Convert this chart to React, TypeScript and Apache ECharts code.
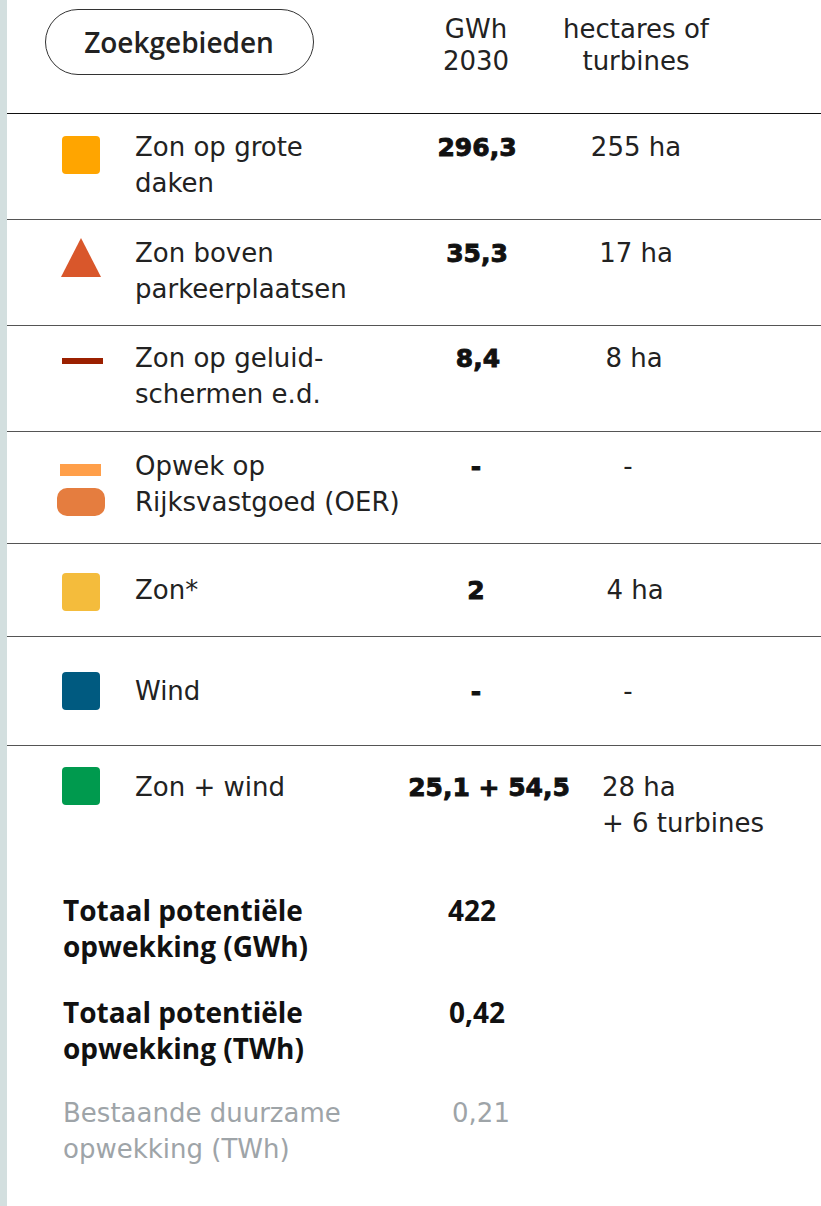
import React, { useEffect, useRef } from "react";
import * as echarts from "echarts";

// ---- data ----
const headerButton = "Zoekgebieden";
const columnHeaders = [["GWh", "2030"], ["hectares of", "turbines"]];
const categories = [
  "Zon op grote\ndaken",
  "Zon boven\nparkeerplaatsen",
  "Zon op geluid-\nschermen e.d.",
  "Opwek op\nRijksvastgoed (OER)",
  "Zon*",
  "Wind",
  "Zon + wind",
];
const gwh2030 = ["296,3", "35,3", "8,4", "-", "2", "-", "25,1 + 54,5"];
const hectares = ["255 ha", "17 ha", "8 ha", "-", "4 ha", "-", "28 ha\n+ 6 turbines"];
const totalLabels = [
  "Totaal potentiële\nopwekking (GWh)",
  "Totaal potentiële\nopwekking (TWh)",
  "Bestaande duurzame\nopwekking (TWh)",
];
const totalValues = ["422", "0,42", "0,21"];

// ---- layout / style ----
const LIGHT = "'DejaVu Sans'";
const BOLD = "'Open Sans'";
const TEXT = "#222222";
const dividerY = [113, 219, 325, 431, 543, 636, 745];
const rowTextY = [147, 253, 358, 466, 590, 691, 787];
const gwhX = [477, 477, 478, 476, 476, 476, 489];
const haX = [636, 636, 634, 628, 635, 628, 602];
const totalY = [910, 1012, 1113];
const totalX = [472, 477, 481];
const LH = 36;

function icon(i: number): any[] {
  switch (i) {
    case 0:
      return [{ type: "rect", shape: { x: 62, y: 136, width: 38, height: 38, r: 4 }, style: { fill: "#FFA500" } }];
    case 1:
      return [{ type: "polygon", shape: { points: [[81, 238], [101, 277], [61, 277]] }, style: { fill: "#D9572B" } }];
    case 2:
      return [{ type: "rect", shape: { x: 62, y: 358, width: 41, height: 6 }, style: { fill: "#9B2000" } }];
    case 3:
      return [
        { type: "rect", shape: { x: 60, y: 464, width: 41, height: 12 }, style: { fill: "#FF9F4A" } },
        { type: "rect", shape: { x: 57, y: 488, width: 48, height: 28, r: 10 }, style: { fill: "#E57D3F" } },
      ];
    case 4:
      return [{ type: "rect", shape: { x: 62, y: 573, width: 38, height: 38, r: 4 }, style: { fill: "#F4BC3C" } }];
    case 5:
      return [{ type: "rect", shape: { x: 62, y: 672, width: 38, height: 38, r: 4 }, style: { fill: "#005A80" } }];
    default:
      return [{ type: "rect", shape: { x: 62, y: 767, width: 38, height: 38, r: 4 }, style: { fill: "#009A4E" } }];
  }
}

export default function App() {
  const ref = useRef<HTMLDivElement>(null);
  useEffect(() => {
    if (!ref.current) return;
    const chart = echarts.init(ref.current, null, { renderer: "svg" });
    const els: any[] = [];
    els.push({ type: "rect", shape: { x: 0, y: 0, width: 821, height: 1206 }, style: { fill: "#ffffff" }, z: 0 });
    els.push({ type: "rect", shape: { x: 0, y: 0, width: 7, height: 1206 }, style: { fill: "#D3DFDF" }, z: 1 });
    // button
    els.push({
      type: "rect",
      shape: { x: 45.5, y: 9.5, width: 268, height: 65, r: 32.5 },
      style: { fill: "#ffffff", stroke: "#333333", lineWidth: 1 },
      z: 2,
    });
    els.push({
      type: "text",
      x: 179,
      y: 42,
      style: { text: headerButton, font: `600 28px ${BOLD}`, fill: TEXT, align: "center", verticalAlign: "middle" },
      z: 3,
    });
    // column headers
    const hx = [476, 636];
    columnHeaders.forEach((lines, i) => {
      lines.forEach((h, j) => {
        els.push({
          type: "text",
          x: hx[i],
          y: 29 + j * 32,
          style: { text: h, font: `normal 26px ${LIGHT}`, fill: TEXT, align: "center", verticalAlign: "middle" },
          z: 3,
        });
      });
    });
    // dividers
    dividerY.forEach((y, i) => {
      els.push({
        type: "line",
        shape: { x1: 7, y1: y + 0.5, x2: 821, y2: y + 0.5 },
        style: { stroke: i === 0 ? "#111111" : "#555555", lineWidth: 1 },
        z: 2,
      });
    });
    // rows
    categories.forEach((c, i) => {
      icon(i).forEach((e) => els.push({ ...e, z: 3 }));
      els.push({
        type: "text",
        x: 135,
        y: rowTextY[i] - LH / 2,
        style: { text: c, font: `normal 26px ${LIGHT}`, lineHeight: LH, fill: TEXT, align: "left", verticalAlign: "top" },
        z: 3,
      });
      els.push({
        type: "text",
        x: gwhX[i],
        y: rowTextY[i] - LH / 2,
        style: {
          text: gwh2030[i],
          font: `bold 25px ${LIGHT}`,
          lineHeight: LH,
          fill: "#111111",
          stroke: "#111111",
          lineWidth: 0.9,
          align: "center",
          verticalAlign: "top",
        },
        z: 3,
      });
      els.push({
        type: "text",
        x: haX[i],
        y: rowTextY[i] - LH / 2,
        style: {
          text: hectares[i],
          font: `normal 26px ${LIGHT}`,
          lineHeight: LH,
          fill: TEXT,
          align: i === 6 ? "left" : "center",
          verticalAlign: "top",
        },
        z: 3,
      });
    });
    // totals
    totalLabels.forEach((t, i) => {
      const gray = i === 2;
      const col = gray ? "#9EA4A8" : "#111111";
      const font = gray ? `normal 26px ${LIGHT}` : `700 28px ${BOLD}`;
      els.push({
        type: "text",
        x: 63,
        y: totalY[i] - LH / 2,
        style: { text: t, font, lineHeight: LH, fill: col, align: "left", verticalAlign: "top" },
        z: 3,
      });
      els.push({
        type: "text",
        x: totalX[i],
        y: totalY[i] - LH / 2,
        style: { text: totalValues[i], font, lineHeight: LH, fill: col, align: "center", verticalAlign: "top" },
        z: 3,
      });
    });
    chart.setOption({ animation: false, graphic: { elements: els } });
    return () => chart.dispose();
  }, []);
  return <div ref={ref} style={{ position: "absolute", left: 0, top: 0, width: 821, height: 1206 }} />;
}
